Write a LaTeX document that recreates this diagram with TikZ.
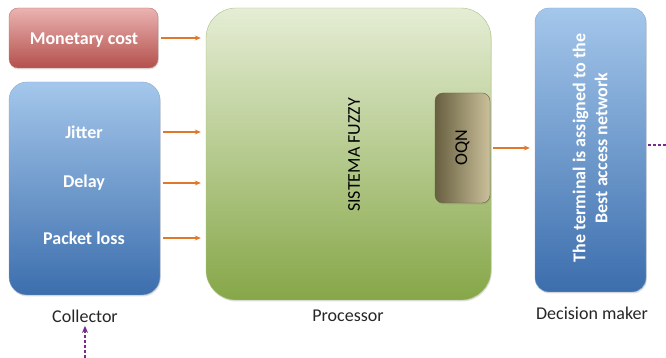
\documentclass[tikz,border=0pt]{standalone}
\usepackage{fontspec}
\setmainfont{Carlito}
\usepackage{xcolor}
\usetikzlibrary{arrows.meta,positioning,calc,shadows}
\definecolor{RedTop}{HTML}{EAB3B1}
\definecolor{RedBot}{HTML}{B4504C}
\definecolor{BlueTop}{HTML}{A4C7EB}
\definecolor{BlueBot}{HTML}{3C6EAD}
\definecolor{GreenTop}{HTML}{E5EDD5}
\definecolor{GreenBot}{HTML}{86A748}
\definecolor{OqnDark}{HTML}{675F40}
\definecolor{OqnLight}{HTML}{CBC09A}
\definecolor{Orange}{HTML}{E0782A}
\definecolor{Purple}{HTML}{7A2A8C}

\begin{document}
\begin{tikzpicture}[font=\fontsize{18}{22}\selectfont,
  box/.style={draw,line width=0.4pt,drop shadow={opacity=0.25,shadow xshift=0.8pt,shadow yshift=-1.5pt}},
  redbox/.style={box,draw=RedBot!80,top color=RedTop,bottom color=RedBot,rounded corners=9pt},
  bluebox/.style={box,draw=BlueBot!60,top color=BlueTop,bottom color=BlueBot},
  inner/.style={text=white,font=\fontsize{18}{22}\selectfont\bfseries},
  lab/.style={text=black!85},
  arr/.style={-{Stealth[length=6pt,width=5pt]},draw=Orange,line width=1.1pt,shorten <=3pt,shorten >=5pt},
  fb/.style={draw=Purple,dash pattern=on 3pt off 2pt,line width=1.1pt}]
% page is 666pt x 358pt, y measured upward
\begin{scope}[x=1pt,y=1pt]
\useasboundingbox (0,0) rectangle (666,358);
% input boxes
\node[redbox,minimum width=149pt,minimum height=60pt] (cost) at (83.5,320) {};
\node[inner] at (84,318) {Monetary cost};
\node[bluebox,rounded corners=18pt,minimum width=151pt,minimum height=213pt] (coll) at (84.5,169.5) {};
\node[inner] (jitter) at (84,226) {Jitter};
\node[inner] (delay) at (84,175) {Delay};
\node[inner] (loss) at (84,120) {Packet loss};
% fuzzy processor
\node[box,draw=GreenBot!70,top color=GreenTop,bottom color=GreenBot,rounded corners=30pt,
  minimum width=285pt,minimum height=292pt] (fuzzy) at (348.5,204) {};
\node[rotate=90,text=black] at (354,203) {SISTEMA FUZZY};
\node[box,draw=OqnDark,left color=OqnDark,right color=OqnLight,rounded corners=8pt,
  minimum width=55pt,minimum height=110pt] (oqn) at (462.5,210) {};
\node[rotate=90,text=black] at (oqn) {OQN};
% decision maker
\node[bluebox,rounded corners=14pt,minimum width=111pt,minimum height=284pt] (decide) at (590.5,208) {};
\node[inner,rotate=90,align=center,font=\fontsize{18}{22}\selectfont\bfseries] at (590,210)
  {The terminal is assigned to the\\Best access network};
% captions
\node[lab] (collab) at (85,42) {Collector};
\node[lab] (proclab) at (348,42) {Processor};
\node[lab] (declab) at (592,45) {Decision maker};
% arrows
\draw[arr] (cost.east) -- (cost -| fuzzy.west);
\draw[arr] (jitter -| coll.east) -- (jitter -| fuzzy.west);
\draw[arr] (delay -| coll.east) -- (delay -| fuzzy.west);
\draw[arr] (loss -| coll.east) -- (loss -| fuzzy.west);
\draw[arr] (oqn.east) -- (oqn -| decide.west);
% feedback
\coordinate (fbR) at (666,213);
\coordinate (fbB) at (85,0);
\draw[fb] (decide.east |- fbR) ++(2,0) -- (fbR);
\draw[fb,-{Stealth[length=7pt,width=6pt]}] (fbB) -- (collab.south);
\end{scope}
\end{tikzpicture}
\end{document}
